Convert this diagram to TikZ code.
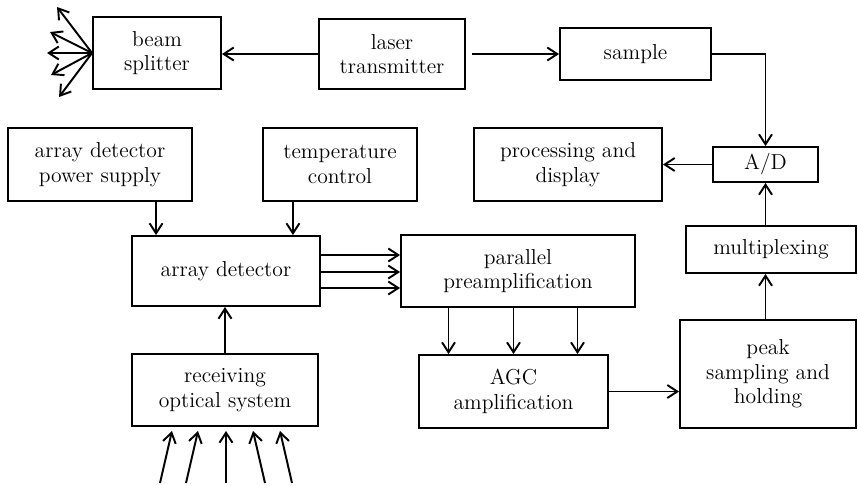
\documentclass[tikz,border=0pt]{standalone}
\usepackage{tikz}
\usetikzlibrary{
  arrows.meta,
  calc,
  positioning
}
\tikzset{
  blk/.style={
    draw,
    line width=1.1pt,
    align=center,
    inner sep=2pt,
    font=\fontsize{12.3}{13.9}\selectfont
  },
  arr/.style={-{Straight Barb[length=2mm, width=2.6mm]}, line width=1.1pt},
}

\begin{document}
\begin{tikzpicture}[x=0.02cm, y=-0.02cm]

\useasboundingbox (0,0) rectangle (858,485);

% top row: splitter, laser, sample
\node[blk, minimum width=2.56cm, minimum height=1.44cm] (splitter) at (157,53) {beam\\splitter};
\node[blk, minimum width=2.92cm, minimum height=1.40cm] (laser) at (392,54) {laser\\transmitter};
\node[blk, minimum width=3.02cm, minimum height=1.04cm] (sample) at (635.5,54) {sample};

% second row
\node[blk, minimum width=3.68cm, minimum height=1.46cm] (power) at (100,164.5) {array detector\\power supply};
\node[blk, minimum width=3.08cm, minimum height=1.46cm] (temp) at (340,164.5) {temperature\\control};
\node[blk, minimum width=3.76cm, minimum height=1.46cm] (proc) at (568,164.5) {processing and\\display};
\node[blk, minimum width=2.10cm, minimum height=0.70cm] (ad) at (765.5,164.5) {A/D};

% detector row
\node[blk, minimum width=3.76cm, minimum height=1.40cm] (array) at (226,271) {array detector};
\node[blk, minimum width=4.68cm, minimum height=1.44cm] (preamp) at (518,271) {parallel\\preamplification};
\node[blk, minimum width=3.40cm, minimum height=0.94cm] (mux) at (771,249.5) {multiplexing};

% bottom row
\node[blk, minimum width=3.72cm, minimum height=1.44cm] (recv) at (225,390) {receiving\\optical system};
\node[blk, minimum width=3.78cm, minimum height=1.46cm] (agc) at (513.5,391.5) {AGC\\amplification};
\node[blk, minimum width=3.52cm, minimum height=2.16cm] (peak) at (768,374) {peak\\sampling and\\holding};

% beams leaving the splitter
\foreach \dx/\dy in {-35/-46, -42/-21, -45/0, -41/22, -33/44}{
  \draw[arr] (splitter.west) -- ++(\dx,\dy);
}

% laser path
\draw[arr] (laser.west) -- (laser.west -| splitter.east);
\draw[arr, shorten <=0.12cm] (laser.east) -- (sample.west);
\draw[arr] (sample.east) -- (sample.east -| ad.north) -- (ad.north);
\draw[arr] (ad.west) -- (proc.east);

% supply and cooling into detector
\coordinate (pin) at ($(array.north west)+(25,0)$);
\coordinate (tin) at ($(array.north east)+(-28,0)$);
\draw[arr] (pin |- power.south) -- (pin);
\draw[arr] (tin |- temp.south) -- (tin);

% incoming light
\foreach \a/\b in {-53/-65, -27/-39, 1/1, 28/40, 55/67}{
  \draw[arr] ($(recv.south)+(\b,56)$) -- ($(recv.south)+(\a,4)$);
}
\draw[arr] (recv.north) -- (recv.north |- array.south);

% parallel channels
\foreach \d in {-16,1,17}{
  \draw[arr] ([yshift=-\d*0.02cm]array.east) -- ([yshift=-\d*0.02cm]preamp.west);
}
\foreach \d in {-65,0,64}{
  \coordinate (ch) at ($(agc.north)+(\d,0)$);
  \draw[arr] (ch |- preamp.south) -- (ch);
}

% back end
\draw[arr] (agc.east) -- (agc.east -| peak.west);
\draw[arr] (peak.north -| ad.south) -- (mux.south -| ad.south);
\draw[arr] (mux.north -| ad.south) -- (ad.south);

\end{tikzpicture}
\end{document}
